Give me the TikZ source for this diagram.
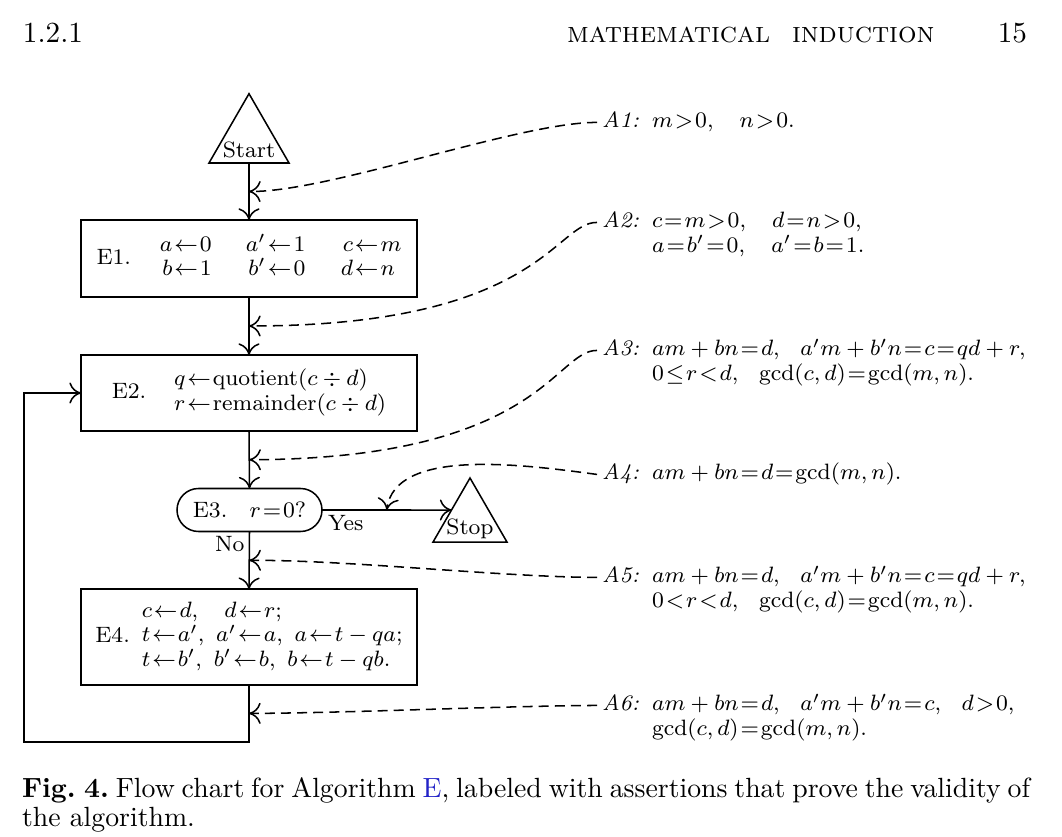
\documentclass[tikz,border=0pt]{standalone}
\usepackage{xcolor}
\usetikzlibrary{arrows.meta,shapes.geometric,shapes.misc,calc}
\definecolor{linkblue}{RGB}{35,35,200}
\newcommand{\figfont}{\fontsize{8}{8.8}\selectfont}
\newcommand{\agap}{\hspace{6pt}}
\thickmuskip=1.5mu plus 2mu
\begin{document}
\begin{tikzpicture}[x=0.36pt,y=-0.36pt,line width=0.55pt,
  box/.style={draw,rectangle,minimum width=120.96pt,inner sep=0pt,outer sep=0pt,font=\figfont},
  tri/.style={draw,regular polygon,regular polygon sides=3,inner sep=0pt,outer sep=0pt},
  txt/.style={inner sep=0pt,outer sep=0pt,font=\figfont},
  lab/.style={font=\figfont\itshape,inner xsep=1.8pt,inner ysep=0pt,outer sep=0pt,text height=4pt,text depth=0pt,anchor=base west},
  body/.style={txt,anchor=base west},
  arr/.style={-{Computer Modern Rightarrow[length=4.2pt,width=7.6pt]}},
  dsh/.style={arr,dash pattern=on 3.6pt off 2.2pt},
  hdr/.style={inner sep=0pt,outer sep=0pt,font=\fontsize{10.5}{12}\selectfont}]
\fill[white] (0,0) rectangle (1062,837);
\useasboundingbox (0,0) rectangle (1062,837);

% header
\node[hdr,anchor=base west] (sec) at (23,43) {1.2.1};
\node[hdr,anchor=base west] (title) at (567,43) {\textsc{mathematical\ \ induction}};
\node[hdr,anchor=base east] (page) at (1027,43) {15};

% flow chart
\node[tri,minimum size=33.26pt] (start) at (249,139.9) {};
\node[txt,anchor=base] (starttxt) at (249,158) {Start};

\node[box,minimum height=27.72pt] (e1) at (249,258.5)
  {E1.\hspace{10.4pt}$\begin{array}{@{}r@{}l@{\hspace{12.3pt}}r@{}l@{\hspace{12.8pt}}r@{}l@{}}
   a\gets{}&0&a'\gets{}&1&c\gets{}&m\\
   b\gets{}&1&b'\gets{}&0&d\gets{}&n\end{array}$};

\node[box,minimum height=27.36pt] (e2) at (249,393)
  {E2.\hspace{10pt}$\begin{array}{@{}l@{}}
   q\gets\mathrm{quotient}(c\div d)\\
   r\gets\mathrm{remainder}(c\div d)\end{array}$};

\node[draw,rounded rectangle,minimum width=52.2pt,minimum height=15.48pt,inner sep=0pt,outer sep=0pt,font=\figfont]
  (e3) at (249.5,510) {E3.\quad$r=0?$};

\node[tri,minimum size=30.74pt] (stop) at (470,520.7) {};
\node[txt,anchor=base] (stoptxt) at (470,535) {Stop};

\node[box,minimum height=34.45pt] (e4) at (249,637)
  {E4.\hspace{4.3pt}$\begin{array}{@{}l@{}}
   c\gets d,\quad d\gets r;\\
   t\gets a',\ a'\gets a,\ a\gets t-qa;\\
   t\gets b',\ b'\gets b,\ b\gets t-qb.\end{array}$};

\node[txt,anchor=base west] (yes) at (328,531) {Yes};
\node[txt,anchor=base west] (no) at (215,552) {No};

\coordinate (lc1) at (249,742);
\coordinate (lc2) at (24,742);

\draw[arr] (start.side 2) -- (e1.north);
\draw[arr] (e1.south) -- (e2.north);
\draw[arr] (e2.south) -- (e3.north);
\draw[arr] (e3.south) -- (e4.north);
\draw[arr] (e3.east) -- (stop.side 1);
\draw[arr] (e4.south) -- (lc1) -- (lc2) |- (e2.west);

\coordinate (m1) at ($(start.side 2)!0.5!(e1.north)$);
\coordinate (m2) at ($(e1.south)!0.5!(e2.north)$);
\coordinate (m3) at ($(e2.south)!0.5!(e3.north)$);
\coordinate (m4) at ($(e3.east)!0.5!(stop.side 1)$);
\coordinate (m5) at ($(e3.south)!0.5!(e4.north)$);
\coordinate (m6) at ($(e4.south)!0.5!(lc1)$);

% assertions
\renewcommand{\arraystretch}{1.01}
\node[lab] (a1) at (597,128) {A1:};
\node[body] (t1) at (652,128) {$m>0,\quad n>0.$};

\node[lab] (a2) at (597,228) {A2:};
\node[body] (t2) at (652,228) {\begin{tabular}[t]{@{}l@{}}$c=m>0,\quad d=n>0,$\\ $a=b'=0,\quad a'=b=1.$\end{tabular}};

\node[lab] (a3) at (597,356) {A3:};
\node[body] (t3) at (652,356) {\begin{tabular}[t]{@{}l@{}}$am+bn=d,\agap a'm+b'n=c=qd+r,$\\ $0\le r<d,\agap \gcd(c,d)=\gcd(m,n).$\end{tabular}};

\node[lab] (a4) at (597,480) {A4:};
\node[body] (t4) at (652,480) {$am+bn=d=\gcd(m,n).$};

\node[lab] (a5) at (597,583) {A5:};
\node[body] (t5) at (652,583) {\begin{tabular}[t]{@{}l@{}}$am+bn=d,\agap a'm+b'n=c=qd+r,$\\ $0<r<d,\agap \gcd(c,d)=\gcd(m,n).$\end{tabular}};

\node[lab] (a6) at (597,711) {A6:};
\node[body] (t6) at (652,711) {\begin{tabular}[t]{@{}l@{}}$am+bn=d,\agap a'm+b'n=c,\agap d>0,$\\ $\gcd(c,d)=\gcd(m,n).$\end{tabular}};

\draw[dsh] (a1.west) .. controls (520,122) and (330,192) .. (m1);
\draw[dsh] (a2.west) .. controls (555,222) and (540,326) .. (m2);
\draw[dsh] (a3.west) .. controls (555,350) and (540,459) .. (m3);
\draw[dsh] (a4.west) .. controls (520,464) and (395,448) .. (m4);
\draw[dsh] (a5.west) .. controls (500,577) and (350,560) .. (m5);
\draw[dsh] (a6.west) .. controls (500,706) and (350,713) .. (m6);

% caption
\node[inner sep=0pt,outer sep=0pt,anchor=base west,font=\fontsize{10}{10.4}\selectfont] (cap) at (22,797)
  {\spaceskip=3.33pt plus 1.66pt minus 1.6pt\xspaceskip=3.8pt plus 1.66pt minus 1.6pt
   \begin{tabular}[t]{@{}l@{}}\makebox[362.9pt][s]{\textbf{Fig. 4.}\ Flow chart for Algorithm \textcolor{linkblue}{E}, labeled with assertions that prove the validity of}\\ the algorithm.\end{tabular}};
\end{tikzpicture}
\end{document}
